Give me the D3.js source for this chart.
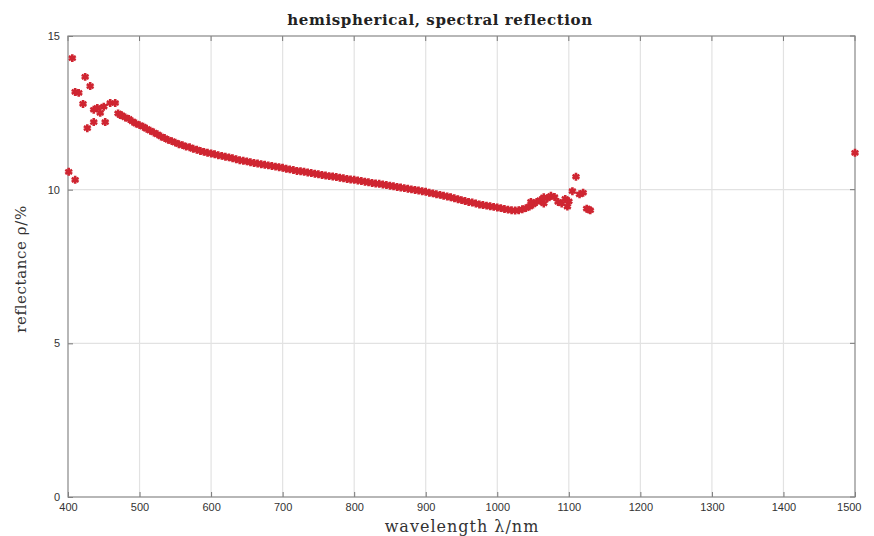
<!DOCTYPE html>
<html>
<head>
<meta charset="utf-8">
<script src="https://cdn.jsdelivr.net/npm/d3@7"></script>
<style>
  body { margin: 0; background: #fff; }
  text { font-family: "DejaVu Serif", "Liberation Serif", serif; }
</style>
</head>
<body>
<svg id="chart" width="874" height="536"></svg>
<script>
// measured points, wavelength in nm / reflectance in %
var wavelength = [401, 406, 410, 410, 415, 421, 424, 427, 431, 436, 436, 441, 445, 450, 452, 459, 466, 473,
  470, 475, 480, 485, 490, 495, 500, 505, 510, 515, 520, 525, 530, 535, 540, 545, 550, 555, 560, 565,
  570, 575, 580, 585, 590, 595, 600, 605, 610, 615, 620, 625, 630, 635, 640, 645, 650, 655, 660, 665,
  670, 675, 680, 685, 690, 695, 700, 705, 710, 715, 720, 725, 730, 735, 740, 745, 750, 755, 760, 765,
  770, 775, 780, 785, 790, 795, 800, 805, 810, 815, 820, 825, 830, 835, 840, 845, 850, 855, 860, 865,
  870, 875, 880, 885, 890, 895, 900, 905, 910, 915, 920, 925, 930, 935, 940, 945, 950, 955, 960, 965,
  970, 975, 980, 985, 990, 995, 1000, 1005, 1010, 1015, 1020, 1025, 1030, 1035, 1040, 1045, 1050, 1055,
  1060, 1065, 1070, 1075, 1080, 1085, 1090, 1095, 1100, 1105, 1110, 1115, 1120, 1125, 1130,
  1047, 1065, 1098, 1128, 1500];
var reflectance = [10.58, 14.28, 10.32, 13.18, 13.15, 12.79, 13.67, 12.0, 13.37, 12.6, 12.2, 12.66, 12.5, 12.7, 12.2, 12.82, 12.82, 12.43,
  12.48, 12.42, 12.35, 12.3, 12.22, 12.15, 12.1, 12.05, 11.98, 11.92, 11.86, 11.8, 11.73, 11.68, 11.62, 11.58, 11.53, 11.48, 11.45, 11.4,
  11.38, 11.33, 11.3, 11.26, 11.23, 11.2, 11.18, 11.15, 11.12, 11.1, 11.07, 11.05, 11.02, 10.99, 10.96, 10.94, 10.92, 10.89, 10.87, 10.85,
  10.83, 10.81, 10.79, 10.77, 10.75, 10.73, 10.71, 10.68, 10.66, 10.64, 10.61, 10.6, 10.58, 10.56, 10.54, 10.52, 10.5, 10.48, 10.46, 10.44,
  10.43, 10.41, 10.39, 10.37, 10.35, 10.33, 10.32, 10.3, 10.28, 10.26, 10.24, 10.22, 10.2, 10.19, 10.17, 10.15, 10.13, 10.11, 10.09, 10.07,
  10.05, 10.03, 10.01, 9.99, 9.97, 9.95, 9.93, 9.9, 9.88, 9.85, 9.83, 9.8, 9.78, 9.75, 9.72, 9.69, 9.66, 9.63, 9.6, 9.58,
  9.55, 9.52, 9.5, 9.48, 9.46, 9.44, 9.42, 9.4, 9.37, 9.35, 9.33, 9.32, 9.33, 9.36, 9.4, 9.45, 9.52, 9.6,
  9.66, 9.55, 9.72, 9.8, 9.76, 9.6, 9.55, 9.7, 9.62, 9.95, 10.42, 9.85, 9.9, 9.38, 9.33,
  9.6, 9.75, 9.45, 9.35, 11.2];
var xTicks = [400, 500, 600, 700, 800, 900, 1000, 1100, 1200, 1300, 1400, 1500];
var yTicks = [0, 5, 10, 15];

var svg = d3.select("#chart");
var margin = {left: 68, right: 19, top: 36, bottom: 39};
var width = 874 - margin.left - margin.right,
    height = 536 - margin.top - margin.bottom;

var x = d3.scaleLinear().domain([400, 1500]).range([0, width]);
var y = d3.scaleLinear().domain([0, 15]).range([height, 0]);

var g = svg.append("g").attr("transform", "translate(" + margin.left + "," + margin.top + ")");

// grid
g.selectAll(".vgrid").data(xTicks.slice(1, -1)).enter().append("line")
    .attr("x1", d => x(d)).attr("x2", d => x(d))
    .attr("y1", 0).attr("y2", height)
    .attr("stroke", "#e2e2e2").attr("stroke-width", 1.2);
g.selectAll(".hgrid").data(yTicks.slice(1, -1)).enter().append("line")
    .attr("x1", 0).attr("x2", width)
    .attr("y1", d => y(d)).attr("y2", d => y(d))
    .attr("stroke", "#e2e2e2").attr("stroke-width", 1.2);

// axes, matlab style: ticks inward, labels outside
var xAxis = g.append("g").attr("transform", "translate(0," + height + ")")
    .call(d3.axisBottom(x).tickValues(xTicks).tickFormat(d3.format("d")).tickSizeInner(-5).tickSizeOuter(0).tickPadding(6));
var yAxis = g.append("g")
    .call(d3.axisLeft(y).tickValues(yTicks).tickSizeInner(-5).tickSizeOuter(0).tickPadding(8));
[xAxis, yAxis].forEach(function(a) {
    a.select(".domain").remove();
    a.selectAll("line").attr("stroke", "#777");
    a.selectAll("text").attr("fill", "#333").style("font-size", "11px")
        .style("font-family", "\"Liberation Sans\", sans-serif");
});
xAxis.selectAll(".tick").filter(d => d == 1500).select("text").attr("text-anchor", "end").attr("dx", "6");

// top ticks and right ticks
g.selectAll(".tt").data(xTicks).enter().append("line")
    .attr("x1", d => x(d)).attr("x2", d => x(d)).attr("y1", 0).attr("y2", 5).attr("stroke", "#777");
g.selectAll(".rt").data(yTicks).enter().append("line")
    .attr("x1", width - 5).attr("x2", width).attr("y1", d => y(d)).attr("y2", d => y(d)).attr("stroke", "#777");

g.append("rect").attr("width", width).attr("height", height)
    .attr("fill", "none").attr("stroke", "#888").attr("stroke-width", 1.2);

// points
var marker = d3.symbol().type(d3.symbolAsterisk).size(44);
g.selectAll(".pt").data(wavelength).enter().append("path")
    .attr("d", marker)
    .attr("transform", (d, i) => "translate(" + x(d) + "," + y(reflectance[i]) + ")")
    .attr("fill", "none")
    .attr("stroke", "#cf2531")
    .attr("stroke-width", 2.6);

// labels
svg.append("text").attr("x", 440).attr("y", 25)
    .attr("text-anchor", "middle").style("font-size", "15px").style("font-weight", "bold")
    .style("letter-spacing", "0.6px")
    .attr("fill", "#222").text("hemispherical, spectral reflection");
svg.append("text").attr("x", 462).attr("y", 532)
    .attr("text-anchor", "middle").style("font-size", "16px").style("letter-spacing", "1px")
    .attr("fill", "#333")
    .text("wavelength λ/nm");
svg.append("text").attr("transform", "translate(26,269) rotate(-90)")
    .attr("text-anchor", "middle").style("font-size", "15px").style("letter-spacing", "0.6px")
    .attr("fill", "#333")
    .text("reflectance ρ/%");
</script>
</body>
</html>
